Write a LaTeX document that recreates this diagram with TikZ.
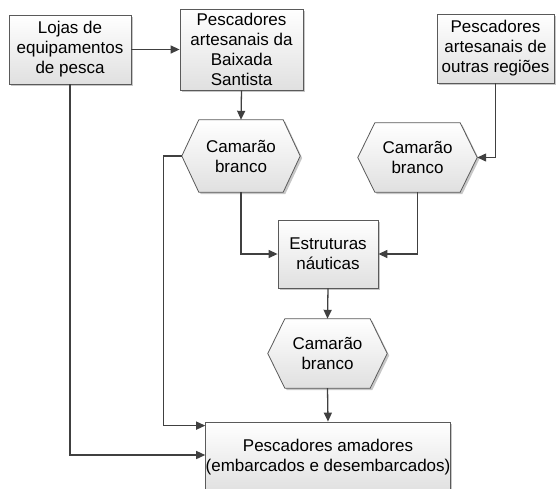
\documentclass[tikz,border=0pt]{standalone}
\usepackage{fontspec}
\setmainfont{Liberation Sans}
\usetikzlibrary{arrows.meta,shadows,calc,backgrounds}
\definecolor{ln}{HTML}{404040}
\definecolor{fr}{HTML}{5A5A5A}
\definecolor{botc}{HTML}{E0E0E0}
\newcommand\drawhexagon[1]{%
  \path[hexpath] ($(#1.west)+(-17,0)$) -- (#1.north west) -- (#1.north east) -- ($(#1.east)+(17,0)$) -- (#1.south east) -- (#1.south west) -- cycle;}
\begin{document}
\begin{tikzpicture}[x=1pt,y=-1pt,
  lbl/.style={font=\fontsize{17}{20}\selectfont, align=center, inner sep=0pt},
  boxnode/.style={lbl, draw=fr, line width=0.8pt, top color=white, bottom color=botc,
    drop shadow={shadow xshift=2pt,shadow yshift=-2pt,fill=black!22,opacity=1}},
  hexpath/.style={draw=fr, line width=0.8pt, top color=white, bottom color=botc,
    drop shadow={shadow xshift=2pt,shadow yshift=-2pt,fill=black!22,opacity=1}},
  conn/.style={draw=ln, line width=1.3pt, -{Triangle[length=9pt,width=8pt]}}]
\useasboundingbox (0,0) rectangle (556,488);
\clip (0,0) rectangle (556,488);
% boxes
\node[boxnode, minimum width=122, minimum height=69] (b1) at (70,49.5) {Lojas de\\equipamentos\\de pesca};
\node[boxnode, minimum width=123, minimum height=81] (b2) at (241.5,49.5) {Pescadores\\artesanais da\\Baixada\\Santista};
\node[boxnode, minimum width=117, minimum height=69] (b3) at (495.5,48.5) {Pescadores\\artesanais de\\outras regiões};
\node[boxnode, minimum width=100, minimum height=68] (est) at (328,254) {Estruturas\\náuticas};
\node[boxnode, minimum width=238, minimum height=70] (bot) at (328,457) {Pescadores amadores\\(embarcados e desembarcados)};
% hexagons
\node[lbl, minimum width=84, minimum height=72] (h1) at (241,156) {Camarão\\branco};
\node[lbl, minimum width=85, minimum height=69] (h2) at (417.5,157.5) {Camarão\\branco};
\node[lbl, minimum width=85, minimum height=69] (h3) at (327.5,353.5) {Camarão\\branco};
\begin{scope}[on background layer]
\drawhexagon{h1}
\drawhexagon{h2}
\drawhexagon{h3}
\end{scope}
\coordinate (h1w) at ($(h1.west)+(-17,0)$);
\coordinate (h2e) at ($(h2.east)+(17,0)$);
% connectors
\draw[conn] (b1.east) -- (b2.west);
\draw[conn] (b2.south) -- (h1.north);
\draw[conn] (b1.south) |- ([yshift=2pt]bot.west);
\draw[conn] (h1w) -- ++(-18,0) |- ($(bot.north west)+(0,4)$);
\draw[conn] (h1.south) |- (est.west);
\draw[conn] (b3.south) |- (h2e);
\draw[conn] (h2.south) |- (est.east);
\draw[conn] (est.south) -- (h3.north);
\draw[conn] (h3.south) -- (bot.north);
\end{tikzpicture}
\end{document}
